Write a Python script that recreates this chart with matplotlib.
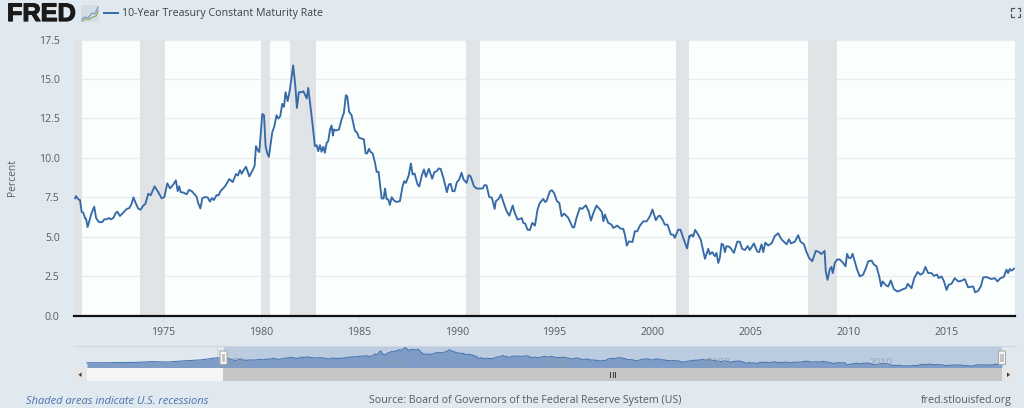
import matplotlib
matplotlib.use("Agg")
import matplotlib.pyplot as plt
from matplotlib.patches import Rectangle, FancyBboxPatch
import matplotlib.patheffects as pe

years = [1970.51,1970.56,1970.68,1970.76,1970.85,1970.93,1971.02,1971.07,1971.15,1971.24,1971.36,1971.49,1971.58,1971.70,1971.82,1971.92,1972.00,1972.12,1972.24,1972.34,1972.46,1972.60,1972.67,1972.80,1972.97,1973.14,1973.28,1973.40,1973.49,1973.62,1973.74,1973.86,1974.00,1974.10,1974.25,1974.37,1974.57,1974.78,1974.93,1975.07,1975.22,1975.36,1975.53,1975.66,1975.75,1975.83,1975.90,1976.07,1976.21,1976.33,1976.48,1976.72,1976.80,1976.91,1977.01,1977.14,1977.28,1977.40,1977.50,1977.60,1977.74,1977.84,1977.94,1978.17,1978.39,1978.56,1978.73,1978.83,1978.93,1979.02,1979.12,1979.24,1979.41,1979.53,1979.68,1979.75,1979.85,1979.92,1980.07,1980.16,1980.24,1980.33,1980.41,1980.58,1980.68,1980.80,1980.89,1980.99,1981.09,1981.18,1981.26,1981.37,1981.48,1981.65,1981.76,1981.84,1981.94,1982.08,1982.17,1982.34,1982.42,1982.51,1982.63,1982.76,1982.85,1982.93,1983.02,1983.10,1983.19,1983.27,1983.36,1983.44,1983.53,1983.61,1983.68,1983.73,1983.83,1983.99,1984.12,1984.24,1984.34,1984.41,1984.51,1984.63,1984.80,1984.92,1985.01,
1985.26,1985.35,1985.43,1985.52,1985.61,1985.71,1985.83,1985.91,1986.01,1986.17,1986.27,1986.34,1986.42,1986.51,1986.59,1986.68,1986.80,1986.93,1987.10,1987.24,1987.32,1987.41,1987.55,1987.66,1987.75,1987.85,1988.00,1988.09,1988.21,1988.33,1988.43,1988.58,1988.75,1988.86,1988.98,1989.08,1989.18,1989.32,1989.50,1989.60,1989.69,1989.79,1989.89,1990.01,1990.13,1990.25,1990.35,1990.51,1990.61,1990.71,1990.88,1991.02,1991.32,1991.44,1991.53,1991.66,1991.80,1991.94,1992.00,1992.14,1992.26,1992.43,1992.55,1992.69,1992.86,1992.97,1993.11,1993.33,1993.40,1993.50,1993.62,1993.74,1993.86,1994.00,1994.13,1994.25,1994.42,1994.52,1994.59,1994.76,1994.86,1994.97,1995.12,1995.24,1995.36,1995.49,1995.70,1995.92,1996.00,1996.12,1996.29,1996.41,1996.60,1996.74,1996.86,1996.97,1997.14,1997.32,1997.42,1997.49,1997.57,1997.74,1997.91,1998.00,1998.20,1998.37,1998.51,1998.59,1998.69,1998.80,1998.98,1999.10,1999.22,1999.36,1999.53,1999.70,1999.87,2000.00,2000.17,2000.29,2000.38,2000.51,2000.63,2000.77,2000.94,2001.06,2001.14,2001.31,2001.43,2001.57,2001.77,
2001.88,2001.91,2002.00,2002.08,2002.18,2002.34,2002.47,2002.68,2002.85,2002.93,2003.05,2003.19,2003.27,2003.36,2003.44,2003.53,2003.61,2003.70,2003.78,2003.95,2004.16,2004.33,2004.46,2004.58,2004.72,2004.86,2004.97,2005.18,2005.35,2005.45,2005.57,2005.66,2005.76,2005.91,2006.08,2006.25,2006.42,2006.59,2006.85,2006.97,2007.07,2007.27,2007.44,2007.56,2007.73,2007.87,2008.00,2008.16,2008.34,2008.51,2008.62,2008.79,2008.85,2008.94,2009.06,2009.14,2009.21,2009.31,2009.43,2009.57,2009.74,2009.86,2009.94,2010.03,2010.13,2010.22,2010.34,2010.45,2010.59,2010.76,2010.90,2011.02,2011.19,2011.31,2011.44,2011.58,2011.68,2011.75,2011.92,2012.04,2012.17,2012.33,2012.51,2012.72,2012.80,2012.94,2013.04,2013.23,2013.37,2013.54,2013.69,2013.82,2013.94,2014.08,2014.25,2014.37,2014.54,2014.62,2014.76,2014.88,2015.02,2015.12,2015.27,2015.44,2015.61,2015.78,2015.95,2016.12,2016.38,2016.48,2016.63,2016.77,2016.89,2017.06,2017.31,2017.48,2017.62,2017.77,2017.94,2018.08,2018.16,2018.25,2018.33,2018.47]

rate = [7.43,7.57,7.36,7.32,6.56,6.52,6.16,6.14,5.61,5.99,6.52,6.90,6.20,5.95,5.91,5.95,6.10,6.10,6.18,6.10,6.18,6.52,6.58,6.31,6.52,6.75,6.81,7.09,7.49,7.09,6.77,6.71,6.98,7.07,7.72,7.62,8.19,7.78,7.43,7.51,8.38,8.06,8.31,8.57,7.89,8.19,7.83,7.78,7.68,7.97,7.87,7.53,7.11,6.79,7.43,7.51,7.49,7.22,7.45,7.32,7.64,7.62,7.89,8.19,8.65,8.46,8.97,8.88,9.22,8.99,9.22,9.43,8.82,9.09,9.49,10.74,10.46,10.36,12.78,12.70,10.74,10.27,10.06,11.62,11.96,12.70,12.49,12.64,13.42,13.23,14.16,13.59,14.32,15.86,14.54,13.16,14.16,14.16,14.22,13.76,14.43,13.48,12.22,10.74,10.80,10.42,10.80,10.38,10.70,10.32,10.95,11.05,11.79,12.05,11.41,11.79,11.73,11.79,12.43,12.85,13.97,13.90,12.91,12.70,11.73,11.58,11.27,
11.17,10.28,10.28,10.57,10.36,10.28,9.68,9.11,9.11,7.42,7.42,8.05,7.39,7.35,7.01,7.50,7.29,7.20,7.25,8.20,8.52,8.41,8.88,9.64,8.94,9.00,8.31,8.18,8.83,9.26,8.79,9.30,8.67,9.09,9.15,9.32,9.30,8.73,7.82,8.31,8.35,7.88,7.88,8.45,8.62,9.05,8.62,8.41,8.90,8.83,8.20,8.05,8.05,8.28,8.24,7.52,7.46,6.76,7.25,7.39,7.67,7.03,6.61,6.33,6.97,6.50,6.08,6.17,5.87,5.83,5.44,5.42,5.87,5.70,6.72,7.14,7.39,7.20,7.25,7.88,7.94,7.78,7.25,7.14,6.29,6.46,6.19,5.59,5.59,6.19,6.82,6.76,6.99,6.61,6.02,6.46,6.97,6.72,6.55,5.97,6.40,5.87,5.76,5.55,5.70,5.51,5.49,5.13,4.43,4.70,4.66,5.34,5.34,5.70,5.97,5.97,6.29,6.72,6.04,6.29,6.33,6.08,5.76,5.76,5.13,5.13,4.92,5.44,5.44,4.92,4.25,
5.04,5.00,5.13,5.00,5.43,5.11,4.79,3.59,4.23,3.87,4.02,3.76,3.97,3.33,3.65,4.55,4.49,4.02,4.40,4.34,3.97,4.68,4.68,4.23,4.15,4.40,4.15,4.57,4.06,4.02,4.51,4.02,4.62,4.44,4.57,5.04,5.21,4.83,4.51,4.83,4.57,4.68,5.09,4.68,4.53,4.02,3.65,3.44,4.10,4.02,3.89,4.10,2.80,2.26,2.95,3.08,2.69,3.33,3.55,3.55,3.33,3.12,3.91,3.65,3.65,3.91,3.40,2.91,2.48,2.59,3.01,3.44,3.48,3.23,3.12,2.48,1.84,2.16,1.92,1.84,2.22,1.67,1.52,1.62,1.67,1.73,2.01,1.73,2.37,2.76,2.59,2.69,3.08,2.69,2.69,2.52,2.59,2.37,2.48,2.20,1.62,1.94,2.01,2.37,2.16,2.20,2.31,1.79,1.84,1.47,1.56,1.84,2.41,2.44,2.31,2.37,2.16,2.37,2.44,2.91,2.69,2.95,2.84,2.97]

early_years = [1962.0,1963.0,1964.0,1965.0,1966.0,1967.0,1968.0,1969.0,1970.0]
early_rate = [4.0,4.0,4.2,4.3,4.9,4.6,5.5,6.2,7.8]

recession_start = [1969.96,1973.83,1980.0,1981.5,1990.5,2001.2,2007.95]
recession_end = [1970.84,1975.1,1980.48,1982.8,1991.17,2001.87,2009.45]

y_ticks = [0.0,2.5,5.0,7.5,10.0,12.5,15.0,17.5]
x_ticks = [1975,1980,1985,1990,1995,2000,2005,2010,2015]
nav_ticks = [1970,1980,1990,2000,2010]

W, H = 1024, 408
PAGE = "#e1e9f0"
BLUE = "#376aa6"
TXT = "#555c63"
FONT = "Open Sans"
plt.rcParams["font.family"] = [FONT, "DejaVu Sans"]

fig = plt.figure(figsize=(W/100, H/100), dpi=100, facecolor=PAGE)

def box(x0, y0, x1, y1):
    return [x0/W, 1-y1/H, (x1-x0)/W, (y1-y0)/H]

# main chart
ax = fig.add_axes(box(73.5, 39.5, 1014.5, 315.5), facecolor="#fafffe")
ax.set_xlim(1970.43, 2018.49)
ax.set_ylim(0, 17.5)
for s in ["top", "left", "right"]:
    ax.spines[s].set_visible(False)
ax.spines["bottom"].set_color("#111111")
ax.spines["bottom"].set_linewidth(1.6)
ax.set_yticks(y_ticks)
ax.set_yticklabels([f"{v:.1f}" for v in y_ticks], fontsize=7.6, color=TXT)
ax.set_xticks(x_ticks)
ax.set_xticklabels([str(v) for v in x_ticks], fontsize=7.6, color=TXT)
ax.tick_params(axis="y", length=0, pad=10)
ax.tick_params(axis="x", length=4, width=0.6, color="#d3dbe4", pad=4.5)
ax.grid(axis="y", color="#e9ebee", lw=0.9, zorder=1)
ax.set_axisbelow(True)
for a, b in zip(recession_start, recession_end):
    ax.axvspan(a, b, color="#e1e4e7", lw=0, zorder=1.5)
ax.plot(years, rate, color=BLUE, lw=1.35, zorder=3, solid_joinstyle="round")
ax.set_ylabel("Percent", fontsize=7.4, color=TXT, labelpad=0)
ax.yaxis.set_label_coords((18-73.5)/941, 0.5)

# navigator
nav = fig.add_axes(box(73.5, 346, 1014.5, 368), facecolor="none")
nav.set_xlim(1962-(87-73.5)/16.2, 1962+(1014.5-87)/16.2)
nav.set_ylim(0, 16.9)
nav.axis("off")
sel0, sel1 = 1962+(223.5-87)/16.2, 1962+(1002-87)/16.2
nav.axvspan(sel0, sel1, color="#bbcbe0", lw=0, zorder=1)
nav_x = early_years + years
nav_y = early_rate + rate
nav.fill_between(nav_x, nav_y, 0, color="#7f9cc6", lw=0, zorder=2)
nav.plot(nav_x, nav_y, color="#4a78b0", lw=0.8, zorder=3)
for t in nav_ticks:
    nav.text(t+1.0, 3.6, str(t), fontsize=7.6, color="#8f9db0", alpha=0.85,
             ha="center", va="center", zorder=4, clip_on=False)
    nav.plot([t, t], [0, 16.9], color="#c3cfe0", lw=0.5, zorder=1.5)

# page furniture drawn in pixel coordinates
ov = fig.add_axes([0, 0, 1, 1], facecolor="none")
ov.set_xlim(0, W); ov.set_ylim(H, 0); ov.axis("off")
def rect(x0, y0, x1, y1, c, **k):
    ov.add_patch(Rectangle((x0, y0), x1-x0, y1-y0, facecolor=c, lw=0, **k))

ov.plot([73.5, 1014.5], [346, 346], color="#cfd6dd", lw=0.8)
rect(73.5, 368, 86.5, 381, "#e6e6e6")
rect(86.5, 368, 222.5, 381, "#f5f5f5")
rect(222.5, 368, 1002, 381, "#c6c6c6")
rect(1002, 368, 1014.5, 381, "#e6e6e6")
ov.fill([81.5, 81.5, 78.5], [372.5, 377, 374.7], color="#333333", lw=0)
ov.fill([1007, 1007, 1010], [372.5, 377, 374.7], color="#333333", lw=0)
for gx in (610, 612.5, 615):
    ov.plot([gx, gx], [371.5, 376.5], color="#333333", lw=0.7)
for hx in (223.5, 1002):
    ov.add_patch(FancyBboxPatch((hx-3, 351.5), 6, 12.5, boxstyle="round,pad=0.5,rounding_size=1",
                                facecolor="#f7f7f7", edgecolor="#a9a9a9", lw=0.8, zorder=5))
    ov.add_patch(Rectangle((hx-1.6, 354), 3.2, 7.5, facecolor="#c4c4c4", lw=0, zorder=6))

# header
t = ov.text(7, 14, "FRED", fontsize=18.2, fontweight="bold", family="Liberation Sans",
            color="#1a1a1a", ha="left", va="center")
t.set_path_effects([pe.withStroke(linewidth=0.9, foreground="#1a1a1a")])
rect(81, 5, 99, 22, "#d5dce2")
ov.plot([82, 85, 88, 92, 95, 98], [19, 17, 18, 13, 14, 7], color="#7f9cc0", lw=0.9)
ov.plot([82, 86, 89, 93, 96, 98], [21, 19, 19.5, 17, 16, 11], color="#8dae6a", lw=0.9)
ov.plot([104, 118], [13, 13], color=BLUE, lw=1.4)
ov.text(122, 13.5, "10-Year Treasury Constant Maturity Rate", fontsize=7.65, color="#3d4248",
        ha="left", va="center")
for cx, cy, dx, dy in [(1011, 8, 1, 1), (1020, 8, -1, 1), (1011, 16.5, 1, -1), (1020, 16.5, -1, -1)]:
    ov.plot([cx+2.5*dx, cx, cx], [cy, cy, cy+2.5*dy], color="#555555", lw=0.9)

# footer
ov.text(26, 401, "Shaded areas indicate U.S. recessions", fontsize=8.05, style="italic",
        color="#4a73ab", ha="left", va="center")
ov.text(525, 401, "Source: Board of Governors of the Federal Reserve System (US)", fontsize=7.63,
        color=TXT, ha="center", va="center")
ov.text(1012, 401, "fred.stlouisfed.org", fontsize=7.7, color=TXT, ha="right", va="center")

fig.savefig("out.png", dpi=100, facecolor=PAGE)
